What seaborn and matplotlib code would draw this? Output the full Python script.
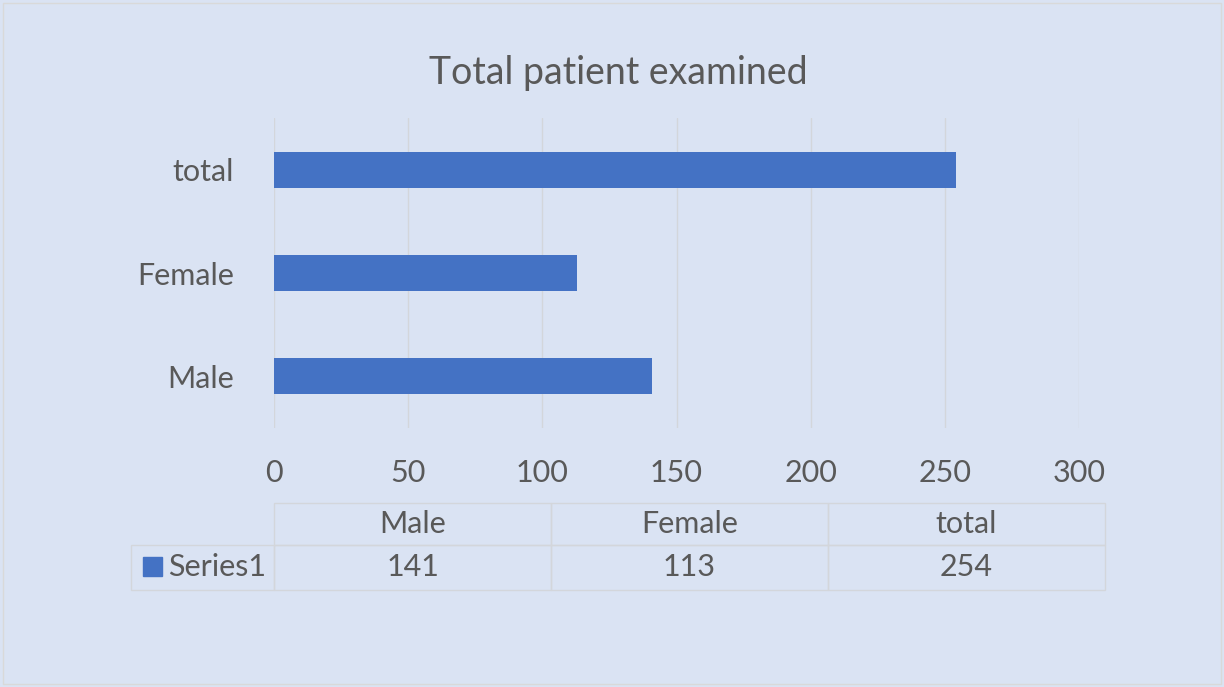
import seaborn as sns
import matplotlib.pyplot as plt
from matplotlib.patches import Rectangle

# dados do grafico
categorias = ["Male", "Female", "total"]
valores = [141, 113, 254]
serie = "Series1"
ticks_x = [0, 50, 100, 150, 200, 250, 300]

fundo = "#DAE3F3"
azul = "#4472C4"
cinza = "#595959"
linha = "#D3D6DB"

sns.set_theme(style="white")
plt.rcParams["font.family"] = ["Lato", "DejaVu Sans"]

fig = plt.figure(figsize=(12.24, 6.87), dpi=100, facecolor=fundo)
ax = fig.add_axes([274 / 1224, 1 - 428 / 687, 805 / 1224, 310 / 687])
ax.set_facecolor(fundo)

sns.barplot(x=valores, y=categorias, order=categorias[::-1], color=azul,
            width=0.35, saturation=1, linewidth=0, ax=ax)

ax.set_xlim(0, 300)
ax.set_xticks(ticks_x)
ax.xaxis.grid(True, color=linha, linewidth=1)
ax.set_axisbelow(True)
for s in ax.spines.values():
    s.set_visible(False)
ax.tick_params(axis="x", length=0, pad=22, labelsize=22, labelcolor=cinza)
ax.tick_params(axis="y", length=0, pad=29, labelsize=22, labelcolor=cinza)
ax.set_xlabel("")
ax.set_ylabel("")

fig.text(618 / 1224, 1 - 73 / 687, "Total patient examined", ha="center",
         va="center", fontsize=27, color=cinza)

# tabela de dados
x0 = 274 / 1224
larg = 277 / 1224
y_topo = 1 - 503 / 687
alt1 = 42 / 687
alt2 = 45 / 687
for i, cat in enumerate(categorias):
    xc = x0 + i * larg
    fig.patches.append(Rectangle((xc, y_topo - alt1), larg, alt1, transform=fig.transFigure,
                                 fill=False, edgecolor=linha, linewidth=1))
    fig.patches.append(Rectangle((xc, y_topo - alt1 - alt2), larg, alt2, transform=fig.transFigure,
                                 fill=False, edgecolor=linha, linewidth=1))
    fig.text(xc + larg / 2, y_topo - alt1 / 2, cat, ha="center", va="center",
             fontsize=22, color=cinza)
    fig.text(xc + larg / 2, y_topo - alt1 - alt2 / 2, str(valores[i]), ha="center",
             va="center", fontsize=22, color=cinza)

x_leg = 131 / 1224
fig.patches.append(Rectangle((x_leg, y_topo - alt1 - alt2), x0 - x_leg, alt2,
                             transform=fig.transFigure, fill=False, edgecolor=linha, linewidth=1))
fig.patches.append(Rectangle((143 / 1224, 1 - 576 / 687), 19 / 1224, 19 / 687,
                             transform=fig.transFigure, color=azul))
fig.text(168 / 1224, y_topo - alt1 - alt2 / 2, serie, ha="left", va="center",
         fontsize=22, color=cinza)

# borda da figura
fig.patches.append(Rectangle((3 / 1224, 3 / 687), 1218 / 1224, 681 / 687,
                             transform=fig.transFigure, fill=False, edgecolor="#D9D9D9", linewidth=1))

plt.savefig("out.png", dpi=100, facecolor=fundo)
